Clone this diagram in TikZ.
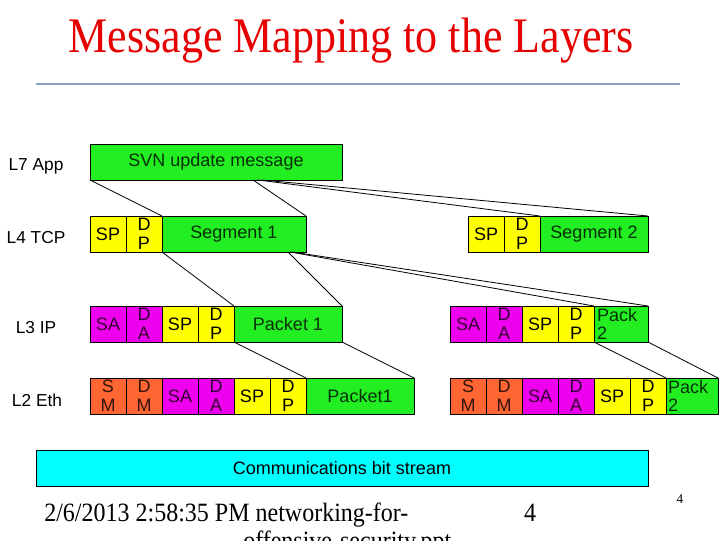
\documentclass[tikz,border=0pt]{standalone}
\usepackage{fontspec}
\setmainfont{Liberation Sans}
\newfontfamily\timesfont{Liberation Serif}
\usetikzlibrary{positioning, calc}
\definecolor{DataGreen}{RGB}{34,238,34}
\definecolor{PortYellow}{RGB}{255,255,0}
\definecolor{AddrMagenta}{RGB}{238,0,238}
\definecolor{MacOrange}{RGB}{255,102,51}
\definecolor{BitCyan}{RGB}{0,255,255}
\definecolor{TitleRed}{RGB}{230,0,0}
\definecolor{RuleBlue}{RGB}{140,162,196}

\begin{document}
\begin{tikzpicture}[
    x=0.75pt, y=-0.75pt,
    node distance=0pt,
    field/.style={rectangle, draw=black, line width=0.7pt, inner sep=0pt, outer sep=0pt, minimum width=27pt, minimum height=27pt, align=center, font=\fontsize{13.5}{14}\selectfont},
    port/.style={field, fill=PortYellow, text=black},
    addr/.style={field, fill=AddrMagenta, text=AddrMagenta!22!black},
    mac/.style={field, fill=MacOrange, text=MacOrange!20!black},
    payload/.style={field, fill=DataGreen, text=DataGreen!20!black},
    tail/.style={payload, text width=36pt, align=left},
    layer/.style={inner sep=0pt, font=\fontsize{13}{15}\selectfont},
    footer/.style={inner sep=0pt, font=\timesfont\fontsize{18}{20}\selectfont},
    link/.style={line width=0.6pt}
]
\useasboundingbox (0,0) rectangle (720,540);
\clip (0,0) rectangle (720,540);

    % Titel
    \node[text=TitleRed, font=\timesfont\fontsize{33}{36}\selectfont] (title) at (351,41) {\scalebox{1}[1.13]{Message Mapping to the Layers}};
    \draw[RuleBlue, line width=0.8pt] (36,84) -- (680,84);

    % Schichten
    \node[layer] (l7) at (36,166) {L7 App};
    \node[layer] (l4) at (36,238) {L4 TCP};
    \node[layer] (l3) at (36,328) {L3 IP};
    \node[layer] (l2) at (37,400) {L2 Eth};

    % L7
    \node[payload, anchor=north west, minimum width=189pt] (svn) at (90,144) {SVN update message};

    % L4
    \node[port, anchor=north west] (sp1) at (90,216) {SP};
    \node[port, right=of sp1] (dp1) {D\\P};
    \node[payload, right=of dp1, minimum width=108pt] (seg1) {Segment 1};
    \node[port, anchor=north west] (sp2) at (468,216) {SP};
    \node[port, right=of sp2] (dp2) {D\\P};
    \node[payload, right=of dp2, minimum width=81pt] (seg2) {Segment 2};

    % L3
    \node[addr, anchor=north west] (sa1) at (90,306) {SA};
    \node[addr, right=of sa1] (da1) {D\\A};
    \node[port, right=of da1] (sp3) {SP};
    \node[port, right=of sp3] (dp3) {D\\P};
    \node[payload, right=of dp3, minimum width=81pt] (pkt1) {Packet 1};
    \node[addr, anchor=north west] (sa2) at (450,306) {SA};
    \node[addr, right=of sa2] (da2) {D\\A};
    \node[port, right=of da2] (sp4) {SP};
    \node[port, right=of sp4] (dp4) {D\\P};
    \node[tail, right=of dp4, minimum width=40.5pt] (pk2) {Pack\\2};

    % L2
    \node[mac, anchor=north west] (sm1) at (90,378) {S\\M};
    \node[mac, right=of sm1] (dm1) {D\\M};
    \node[addr, right=of dm1] (sa3) {SA};
    \node[addr, right=of sa3] (da3) {D\\A};
    \node[port, right=of da3] (sp5) {SP};
    \node[port, right=of sp5] (dp5) {D\\P};
    \node[payload, right=of dp5, minimum width=81pt] (frm1) {Packet1};
    \node[mac, anchor=north west] (sm2) at (450,378) {S\\M};
    \node[mac, right=of sm2] (dm2) {D\\M};
    \node[addr, right=of dm2] (sa4) {SA};
    \node[addr, right=of sa4] (da4) {D\\A};
    \node[port, right=of da4] (sp6) {SP};
    \node[port, right=of sp6] (dp6) {D\\P};
    \node[tail, right=of dp6, minimum width=39pt] (frm2) {Pack\\2};

    % Bitstrom
    \node[field, fill=BitCyan, text=black, anchor=north west, minimum width=459pt] (bits) at (36,450) {Communications bit stream};

    % Zuordnung
    \coordinate (svnA) at ($(svn.south west)!0.647!(svn.south east)$);
    \coordinate (svnB) at ($(svn.south west)!0.667!(svn.south east)$);
    \coordinate (svnC) at ($(svn.south west)!0.683!(svn.south east)$);
    \coordinate (segA) at ($(seg1.south west)!0.875!(seg1.south east)$);
    \coordinate (segB) at ($(seg1.south west)!0.89!(seg1.south east)$);
    \coordinate (segC) at ($(seg1.south west)!0.905!(seg1.south east)$);
    \draw[link] (svn.south west) -- (seg1.north west);
    \draw[link] (svnA) -- (seg1.north east);
    \draw[link] (svnB) -- (seg2.north west);
    \draw[link] (svnC) -- (seg2.north east);
    \draw[link] (seg1.south west) -- (pkt1.north west);
    \draw[link] (segA) -- (pkt1.north east);
    \draw[link] (segB) -- (pk2.north west);
    \draw[link] (segC) -- (pk2.north east);
    \draw[link] (pkt1.south west) -- (frm1.north west);
    \draw[link] (pkt1.south east) -- (frm1.north east);
    \draw[link] (pk2.south west) -- (frm2.north west);
    \draw[link] (pk2.south east) -- (frm2.north east);

    % Fusszeile
    \node[footer, anchor=base west] (date) at (44,521) {\scalebox{1}[1.1]{2/6/2013 2:58:35 PM networking-for-}};
    \node[footer, anchor=base west] (file) at (243,549) {\scalebox{1}[1.1]{offensive-security.ppt}};
    \node[footer, anchor=base] (pagenum) at (530,521) {\scalebox{1}[1.1]{4}};
    \node[inner sep=0pt, anchor=base, font=\timesfont\fontsize{10}{12}\selectfont] (slidenum) at (680,503) {4};
\end{tikzpicture}
\end{document}
